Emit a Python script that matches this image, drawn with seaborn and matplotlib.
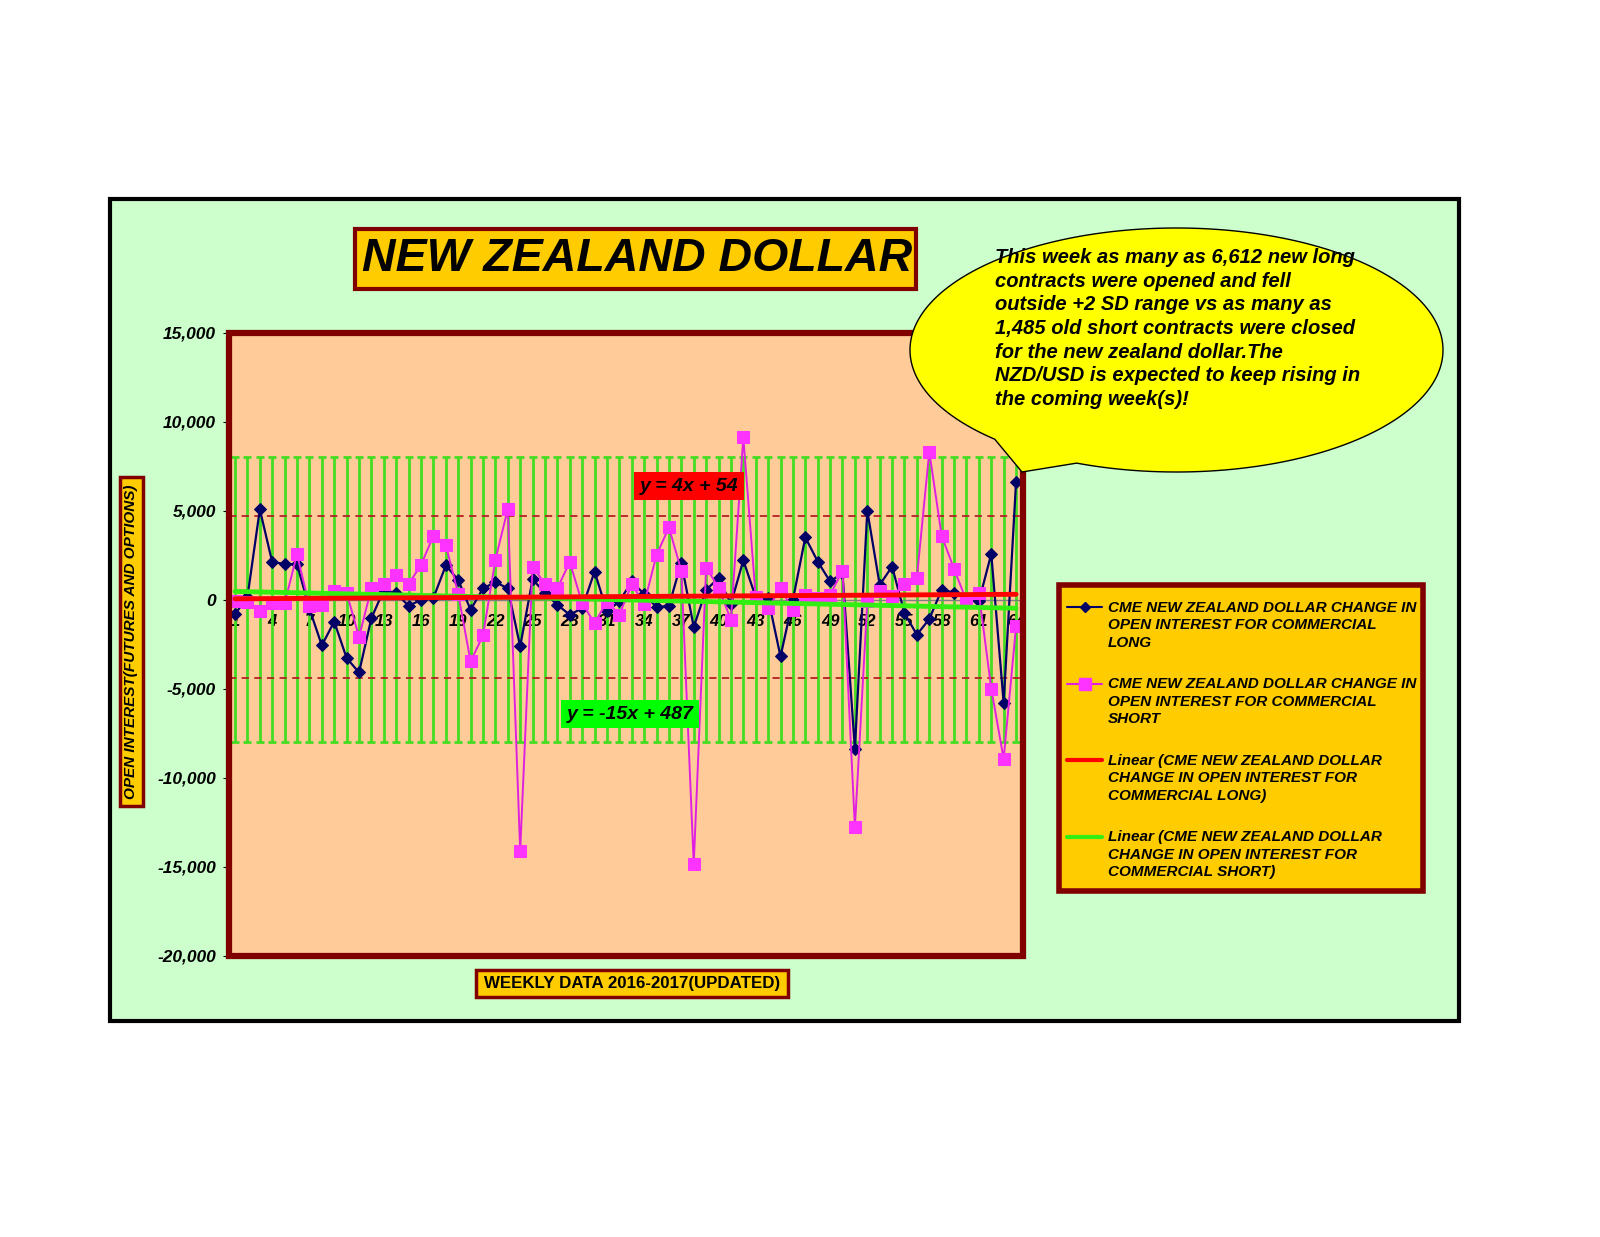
import numpy as np
import pandas as pd
import seaborn as sns
import matplotlib.pyplot as plt
from matplotlib.patches import Rectangle, Polygon
from matplotlib.lines import Line2D

# weekly change in open interest, commercial long / short
weeks = list(range(1, 65))
long_chg = [-800, 150, 5080, 2110, 2020, 2000, -500, -2560, -1220, -3270,
            -4080, -1030, 560, 370, -340, 0, 100, 1930, 1120, -560,
            640, 990, 650, -2620, 1160, 370, -280, -840, -470, 1590,
            -650, -90, 1030, 320, -410, -340, 2090, -1530, 560, 1220,
            -220, 2220, 150, 90, -3180, 0, 3510, 2150, 1030, 1500,
            -8370, 5010, 840, 1870, -750, -1960, -1080, 560, 410, 0,
            -90, 2580, -5790, 6612]
short_chg = [-90, -100, -600, -190, -190, 2560, -370, -280, 470, 410,
             -2090, 650, 880, 1400, 880, 1960, 3590, 3080, 340, -3460,
             -2000, 2240, 5100, -14110, 1870, 880, 640, 2130, -190, -1310,
             -100, -840, 880, -220, 2520, 4070, 1630, -14860, 1810, 690,
             -1120, 9120, 150, -470, 650, -560, 280, 75, 280, 1640,
             -12770, -90, 500, 220, 880, 1250, 8320, 3590, 1740, -60,
             370, -4990, -8930, -1485]

# trend lines as stated on the chart: y = slope*x + intercept
long_fit = (4, 54)
short_fit = (-15, 487)
sd_upper, sd_lower = 4730, -4390
band = 8000
yticks = [-20000, -15000, -10000, -5000, 0, 5000, 10000, 15000]
xtick_weeks = list(range(1, 65, 3))

df = pd.DataFrame({"week": weeks, "long": long_chg, "short": short_chg})
wk = np.array(weeks)
df["long_trend"] = long_fit[0] * wk + long_fit[1]
df["short_trend"] = short_fit[0] * wk + short_fit[1]

sns.set_style("white")
plt.rcParams["font.family"] = ["Liberation Sans", "DejaVu Sans"]
plt.rcParams["text.color"] = "black"
plt.rcParams["xtick.color"] = "black"
plt.rcParams["ytick.color"] = "black"

W, H = 1600, 1237
def fx(x):
    return x / W
def fy(y):
    return 1 - y / H

GOLD = "#FFCC00"
DRED = "#800000"

fig = plt.figure(figsize=(16, 12.37), dpi=100)
fig.patch.set_facecolor("white")

def box(x0, y0, x1, y1, fc, ec, lw, z=1):
    fig.add_artist(Rectangle((fx(x0), fy(y1)), (x1 - x0) / W, (y1 - y0) / H,
                             transform=fig.transFigure, facecolor=fc,
                             edgecolor=ec, lw=lw, zorder=z))

# green background frame
box(110, 199, 1459, 1021, "#CCFFCC", "black", 3, z=-1)

ax = fig.add_axes([fx(228.6), fy(956), (1022.5 - 228.6) / W, (956 - 332.7) / H])
ax.set_facecolor("#FFCC99")

# green range bars and +/-2 SD lines
ax.errorbar(df["week"], np.zeros(len(df)), yerr=band, fmt="none",
            ecolor="#44DD22", elinewidth=2, capsize=2.8, capthick=2, zorder=1)
ax.axhline(sd_upper, color="#B22222", ls=(0, (4, 3)), lw=1.3, zorder=1)
ax.axhline(sd_lower, color="#B22222", ls=(0, (4, 3)), lw=1.3, zorder=1)

sns.lineplot(data=df, x="week", y="long", ax=ax, color="#000066", lw=1.6,
             marker="D", markersize=6, markeredgecolor="#000066", zorder=3)
sns.lineplot(data=df, x="week", y="short", ax=ax, color="#E020E0", lw=1.4,
             marker="s", markersize=9, markerfacecolor="#FF33FF",
             markeredgecolor="#FF33FF", zorder=3)
sns.lineplot(data=df, x="week", y="short_trend", ax=ax, color="#33EE11", lw=3.5, zorder=4)
sns.lineplot(data=df, x="week", y="long_trend", ax=ax, color="#FF0000", lw=3.5, zorder=4)

ax.set_xlim(0.48, 64.52)
ax.set_ylim(-20000, 15000)
ax.set_xlabel("")
ax.set_ylabel("")

for s in ["top", "right", "left"]:
    ax.spines[s].set_visible(False)
ax.spines["bottom"].set_position(("data", 0))
ax.spines["bottom"].set_color("#808080")
ax.spines["bottom"].set_linewidth(1)
ax.add_patch(Rectangle((0, 0), 1, 1, transform=ax.transAxes, fill=False,
                       edgecolor=DRED, lw=4.5, clip_on=False, zorder=10))

ax.set_xticks(xtick_weeks)
ax.set_xticklabels([str(w) for w in xtick_weeks], fontsize=12,
                   fontweight="bold", fontstyle="italic")
ax.set_xticks(weeks, minor=True)
ax.tick_params(axis="x", which="both", direction="out", length=3,
               color="#808080", pad=7, bottom=True)
ax.set_yticks(yticks)
ax.set_yticklabels([f"{v:,}" for v in yticks], fontsize=12.5,
                   fontweight="bold", fontstyle="italic")
ax.tick_params(axis="y", direction="out", length=4, color="black", pad=5, left=True)

# trend equations
ax.text(37.6, 6390, "y = 4x + 54", ha="center", va="center", fontsize=14,
        fontweight="bold", fontstyle="italic", zorder=6,
        bbox=dict(boxstyle="square,pad=0.3", fc="#FF0000", ec="none"))
ax.text(32.85, -6420, "y = -15x + 487", ha="center", va="center", fontsize=14,
        fontweight="bold", fontstyle="italic", zorder=6,
        bbox=dict(boxstyle="square,pad=0.3", fc="#00FF00", ec="none"))

# title
box(355, 229, 916, 289, GOLD, DRED, 3, z=1)
fig.text(fx(637), fy(259), "NEW ZEALAND DOLLAR", ha="center", va="center",
         fontsize=33.5, fontweight="bold", fontstyle="italic", zorder=2)

# axis labels
box(120, 477, 143, 806, GOLD, DRED, 2.5, z=1)
fig.text(fx(131.5), fy(641.5), "OPEN INTEREST(FUTURES AND OPTIONS)", rotation=90,
         ha="center", va="center", fontsize=11, fontweight="bold",
         fontstyle="italic", zorder=2)
box(476, 970, 788, 997, GOLD, DRED, 2.5, z=1)
fig.text(fx(632), fy(983.5), "WEEKLY DATA 2016-2017(UPDATED)", ha="center",
         va="center", fontsize=12.2, fontweight="bold", zorder=2)

# legend
box(1059, 585, 1423, 891, GOLD, DRED, 4, z=2)
legend_items = [
    ("#000066", "D", "#000066", 5, 1.5,
     "CME NEW ZEALAND DOLLAR CHANGE IN\nOPEN INTEREST FOR COMMERCIAL\nLONG"),
    ("#E020E0", "s", "#FF33FF", 8, 1.5,
     "CME NEW ZEALAND DOLLAR CHANGE IN\nOPEN INTEREST FOR COMMERCIAL\nSHORT"),
    ("#FF0000", None, None, 0, 3,
     "Linear (CME NEW ZEALAND DOLLAR\nCHANGE IN OPEN INTEREST FOR\nCOMMERCIAL LONG)"),
    ("#33EE11", None, None, 0, 3,
     "Linear (CME NEW ZEALAND DOLLAR\nCHANGE IN OPEN INTEREST FOR\nCOMMERCIAL SHORT)"),
]
for i, (lc, mk, mc, ms, lw, label) in enumerate(legend_items):
    yc = 607 + i * 76.5
    fig.add_artist(Line2D([fx(1067), fx(1102)], [fy(yc), fy(yc)], color=lc, lw=lw,
                          transform=fig.transFigure, zorder=3))
    if mk:
        fig.add_artist(Line2D([fx(1084.5)], [fy(yc)], marker=mk, color=mc,
                              markersize=ms, markeredgecolor=mc,
                              transform=fig.transFigure, zorder=3))
    fig.text(fx(1108), fy(yc - 6), label, ha="left", va="top", fontsize=11,
             fontweight="bold", fontstyle="italic", linespacing=1.3, zorder=3)

# speech bubble
cx, cy, a, b = 1176.5, 350, 266.5, 122
t = np.radians(np.linspace(133, 112 + 360, 300))
px = cx + a * np.cos(t)
py = cy + b * np.sin(t)
verts = [(fx(x), fy(y)) for x, y in zip(px, py)] + [(fx(1022), fy(472))]
fig.add_artist(Polygon(verts, closed=True, facecolor="#FFFF00", edgecolor="black",
                       lw=1, transform=fig.transFigure, zorder=5))
note = ("This week as many as 6,612 new long\n"
        "contracts were opened and fell\n"
        "outside +2 SD range vs as many as\n"
        "1,485 old short contracts were closed\n"
        "for the new zealand dollar.The\n"
        "NZD/USD is expected to keep rising in\n"
        "the coming week(s)!")
fig.text(fx(995), fy(248), note, ha="left", va="top", fontsize=14.5,
         fontweight="bold", fontstyle="italic", linespacing=1.31, zorder=6)

fig.savefig("out.png", dpi=100)
